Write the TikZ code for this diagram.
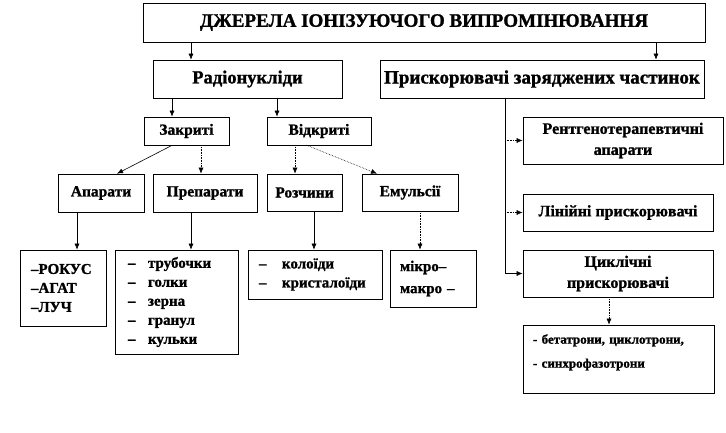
\documentclass[tikz,border=0pt]{standalone}
\usepackage{fontspec}
\setmainfont[BoldFeatures={FakeBold=1.2}]{Liberation Serif}
\usetikzlibrary{arrows.meta}

\newcommand{\dashitem}[2][20pt]{\makebox[#1][l]{--}#2}

\tikzset{
	box/.style={draw, line width=0.7pt, inner sep=2pt, align=center, font=\bfseries},
	lst/.style={box, align=left, inner ysep=2pt},
	sarr/.style={line width=0.6pt, -{Latex[length=6pt,width=5pt]}},
	darr/.style={sarr, densely dotted},
	bigf/.style={font=\bfseries\fontsize{19}{22}\selectfont},
	radf/.style={font=\bfseries\fontsize{18.5}{22}\selectfont},
	midf/.style={font=\bfseries\fontsize{15.5}{19}\selectfont},
	lstf/.style={font=\bfseries\fontsize{15}{19}\selectfont},
	rgtf/.style={font=\bfseries\fontsize{16}{21}\selectfont},
	smlf/.style={font=\bfseries\fontsize{13}{24}\selectfont}
}

\begin{document}
\begin{tikzpicture}[x=1pt,y=-1pt]
	\useasboundingbox (0,0) rectangle (726,432);

	\node[box, bigf, minimum width=562pt, minimum height=39pt] (top) at (424,22.5) {ДЖЕРЕЛА ІОНІЗУЮЧОГО ВИПРОМІНЮВАННЯ};
	\node[box, radf, minimum width=189pt, minimum height=38pt] (rad) at (247.5,79) {Радіонукліди};
	\node[box, bigf, minimum width=324pt, minimum height=38pt] (prysk) at (542,79) {Прискорювачі заряджених частинок};

	\node[box, midf, minimum width=85pt, minimum height=28pt] (zakr) at (186.5,131) {Закриті};
	\node[box, midf, minimum width=104pt, minimum height=28pt] (vidkr) at (319,131) {Відкриті};
	\node[box, midf, minimum width=86pt, minimum height=38pt] (apar) at (101,193) {Апарати};
	\node[box, midf, minimum width=104pt, minimum height=38pt] (prep) at (205,193) {Препарати};
	\node[box, midf, minimum width=75pt, minimum height=37pt] (rozch) at (304.5,192.5) {Розчини};
	\node[box, midf, minimum width=96pt, minimum height=37pt] (emul) at (410,192.5) {Емульсії};

	\node[lst, lstf, inner xsep=11pt, text width=64pt, minimum height=76pt] (rokus) at (63,288)
		{--РОКУС\\--АГАТ\\--ЛУЧ};
	\node[lst, lstf, inner xsep=13pt, text width=97pt, minimum height=104pt] (trub) at (176.5,302)
		{\dashitem{трубочки}\\\dashitem{голки}\\\dashitem{зерна}\\\dashitem{гранул}\\\dashitem{кульки}};
	\node[lst, lstf, inner xsep=11pt, text width=112pt, minimum height=49pt] (kol) at (315,274.5)
		{\dashitem[23pt]{колоїди}\\\dashitem[23pt]{кристалоїди}};
	\node[lst, lstf, inner xsep=10pt, text width=66pt, minimum height=57pt] (mikro) at (433,278.5)
		{мікро--\\[3pt]макро --};

	\node[box, rgtf, minimum width=200pt, minimum height=47pt] (rentg) at (623,140.5) {Рентгенотерапевтичні\\апарати};
	\node[box, rgtf, minimum width=190pt, minimum height=37pt] (lin) at (618,212.5) {Лінійні прискорювачі};
	\node[box, rgtf, minimum width=190pt, minimum height=47pt] (cykl) at (618,273.5) {Циклічні\\прискорювачі};
	\node[lst, smlf, inner xsep=10pt, text width=171pt, minimum height=68pt] (beta) at (618.5,359)
		{- бетатрони, циклотрони,\\- синхрофазотрони\\[-8pt]\mbox{}};

	\coordinate (trunk) at ([xshift=-37pt]prysk.south);

	\draw[sarr] ([xshift=-233pt]top.south) -- ([xshift=-56.5pt]rad.north);
	\draw[sarr] ([xshift=232pt]top.south) -- ([xshift=114pt]prysk.north);
	\draw[sarr] ([xshift=-75.5pt]rad.south) -- ([xshift=-14.5pt]zakr.north);
	\draw[sarr] ([xshift=29.5pt]rad.south) -- ([xshift=-42pt]vidkr.north);
	\draw[sarr] ([xshift=-14.5pt]zakr.south) -- ([xshift=16pt]apar.north);
	\draw[darr] ([xshift=14.5pt]zakr.south) -- ([xshift=-4pt]prep.north);
	\draw[darr] ([xshift=-24pt]vidkr.south) -- ([xshift=-9.5pt]rozch.north);
	\draw[darr] ([xshift=-12pt]vidkr.south) -- ([xshift=-33pt]emul.north);
	\draw[sarr] ([xshift=-24pt]apar.south) -- ([xshift=14pt]rokus.north);
	\draw[sarr] ([xshift=-14pt]prep.south) -- ([xshift=14.5pt]trub.north);
	\draw[sarr] ([xshift=9.5pt]rozch.south) -- ([xshift=-1pt]kol.north);
	\draw[darr] ([xshift=10pt]emul.south) -- ([xshift=-13pt]mikro.north);

	\draw[sarr] (trunk) |- (cykl.west);
	\draw[darr] (trunk |- rentg.west) -- (rentg.west);
	\draw[darr] (trunk |- lin.west) -- (lin.west);
	\draw[darr] ([xshift=-9pt]cykl.south) -- ([xshift=-9.5pt]beta.north);
\end{tikzpicture}
\end{document}
